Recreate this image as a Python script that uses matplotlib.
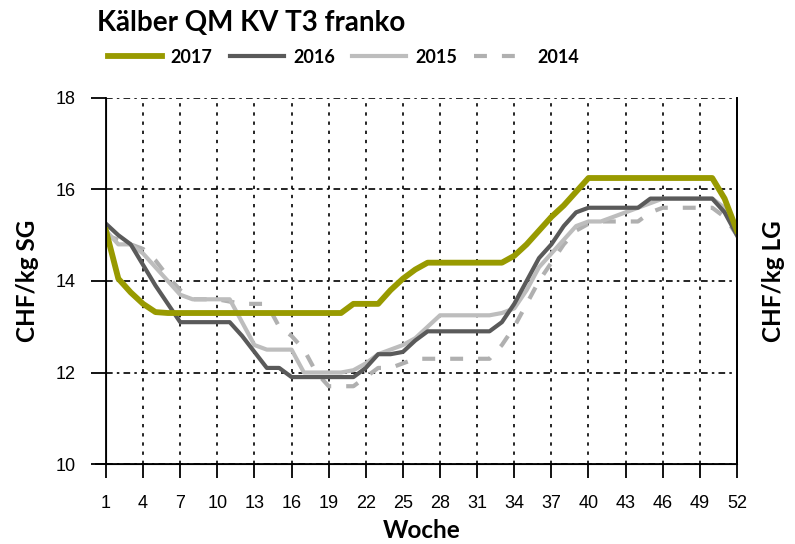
import numpy as np
import matplotlib
matplotlib.use("Agg")
import matplotlib.pyplot as plt

plt.rcParams['font.family'] = ['Liberation Sans', 'DejaVu Sans']

wochen = list(range(1, 53))

# CHF/kg, gelesen aus der Grafik
y2017 = [15.1, 14.05, 13.75, 13.5, 13.32, 13.3, 13.3, 13.3, 13.3, 13.3,
         13.3, 13.3, 13.3, 13.3, 13.3, 13.3, 13.3, 13.3, 13.3, 13.3,
         13.5, 13.5, 13.5, 13.8, 14.05, 14.25, 14.4, 14.4, 14.4, 14.4,
         14.4, 14.4, 14.4, 14.55, 14.8, 15.1, 15.4, 15.65, 15.95, 16.25,
         16.25, 16.25, 16.25, 16.25, 16.25, 16.25, 16.25, 16.25, 16.25, 16.25,
         15.8, 15.1]
y2016 = [15.25, 15.0, 14.8, 14.35, 13.9, 13.5, 13.1, 13.1, 13.1, 13.1,
         13.1, 12.8, 12.45, 12.1, 12.1, 11.9, 11.9, 11.9, 11.9, 11.9,
         11.9, 12.1, 12.4, 12.4, 12.45, 12.7, 12.9, 12.9, 12.9, 12.9,
         12.9, 12.9, 13.1, 13.5, 14.0, 14.5, 14.8, 15.2, 15.5, 15.6,
         15.6, 15.6, 15.6, 15.6, 15.8, 15.8, 15.8, 15.8, 15.8, 15.8,
         15.5, 15.0]
y2015 = [15.1, 14.8, 14.8, 14.6, 14.3, 14.0, 13.7, 13.6, 13.6, 13.6,
         13.6, 13.1, 12.6, 12.5, 12.5, 12.5, 12.0, 12.0, 12.0, 12.0,
         12.05, 12.2, 12.4, 12.5, 12.6, 12.75, 13.0, 13.25, 13.25, 13.25,
         13.25, 13.25, 13.3, 13.4, 13.8, 14.3, 14.6, 14.9, 15.2, 15.3,
         15.3, 15.4, 15.5, 15.6, 15.7, 15.8, 15.8, 15.8, 15.8, 15.8,
         15.6, 15.0]
y2014 = [15.0, 14.9, 14.8, 14.7, 14.45, 14.1, 13.8, 13.6, 13.6, 13.6,
         13.55, 13.5, 13.5, 13.5, 13.0, 12.8, 12.5, 12.0, 11.7, 11.7,
         11.7, 11.9, 12.1, 12.1, 12.2, 12.3, 12.3, 12.3, 12.3, 12.3,
         12.3, 12.3, 12.6, 13.0, 13.5, 14.0, 14.4, 14.8, 15.1, 15.25,
         15.3, 15.3, 15.3, 15.3, 15.5, 15.6, 15.6, 15.6, 15.6, 15.6,
         15.4, 15.0]

fig = plt.figure(figsize=(7.95, 5.44), dpi=100)
ax = fig.add_axes([0.1333, 0.147, 0.7937, 0.673])

ax.plot(wochen, y2014, color='#b0b0b0', lw=3, ls=(0, (3.1, 3.6)), label='2014', zorder=3)
ax.plot(wochen, y2015, color='#bdbdbd', lw=3, label='2015', zorder=4)
ax.plot(wochen, y2016, color='#5a5a5a', lw=3, label='2016', zorder=5)
ax.plot(wochen, y2017, color='#989a00', lw=4.2, label='2017', zorder=6)

ax.set_xlim(1, 52)
ax.set_ylim(10, 18)
ax.set_xticks(range(1, 53, 3))
ax.set_yticks([10, 12, 14, 16, 18])

ax.xaxis.grid(True, color='black', lw=1.2, ls=(0, (2, 3.5)))
ax.yaxis.grid(True, color='black', lw=1.2, ls=(0, (4, 2.5, 1.5, 2.5)))
ax.set_axisbelow(True)

ax.spines['top'].set_visible(False)
for s in ['left', 'right', 'bottom']:
    ax.spines[s].set_linewidth(1.3)
ax.spines['bottom'].set_bounds(0.2, 52)

ax.tick_params(axis='x', direction='out', length=10, width=1.3, labelsize=13, pad=12)
ax.tick_params(axis='y', direction='out', length=11, width=1.3, labelsize=13, pad=11)

lab = {'family': ['Lato', 'DejaVu Sans'], 'weight': 'bold', 'size': 17.5}
ax.set_xlabel('Woche', fontdict=lab, labelpad=5)
ax.set_ylabel('CHF/kg SG', fontdict=lab, labelpad=12)
ax2 = ax.twinx()
ax2.set_ylim(10, 18)
ax2.set_yticks([])
ax2.spines['top'].set_visible(False)
ax2.spines['right'].set_linewidth(1.3)
ax2.set_ylabel('CHF/kg LG', fontdict=lab, labelpad=18)

fig.text(0.122, 0.958, 'Kälber QM KV T3 franko', fontsize=20, fontweight='bold',
         family=['Lato', 'DejaVu Sans'], va='center', ha='left')

handles, labels = ax.get_legend_handles_labels()
order = [3, 2, 1, 0]
fig.legend([handles[i] for i in order], [labels[i] for i in order],
           loc='center left', bbox_to_anchor=(0.115, 0.895), ncol=4,
           frameon=False, handlelength=3.0, columnspacing=0.95, handletextpad=0.5,
           prop={'size': 13, 'weight': 'bold', 'family': ['Lato', 'DejaVu Sans']})

fig.savefig('out.png', dpi=100)
